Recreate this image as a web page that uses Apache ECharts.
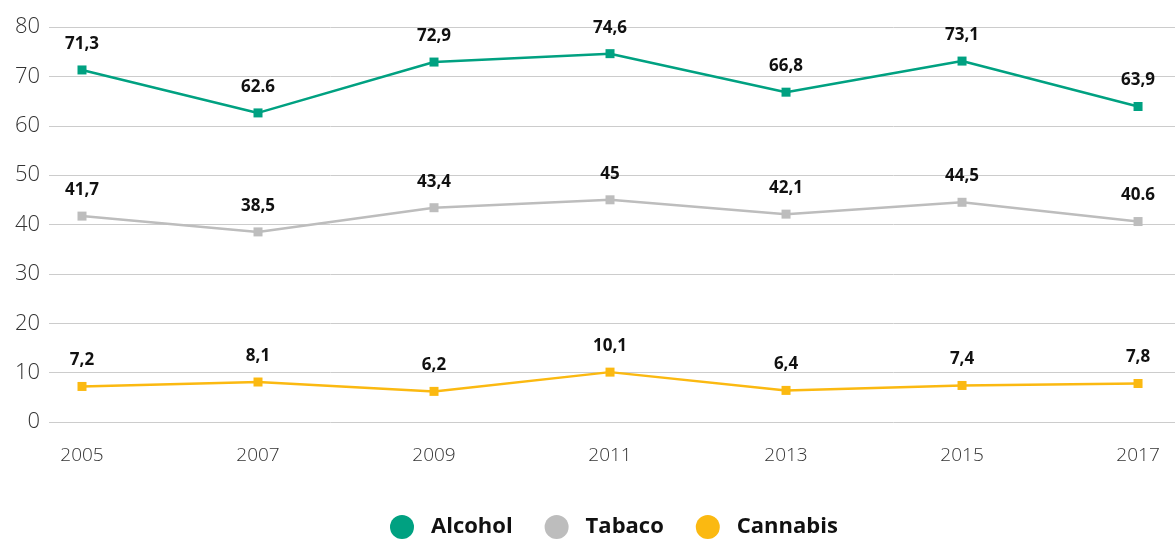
<!DOCTYPE html>
<html>
<head>
<meta charset="utf-8">
<script src="https://cdn.jsdelivr.net/npm/echarts@6/dist/echarts.min.js"></script>
<style>
  html, body { margin: 0; padding: 0; background: #fff; }
  #chart { width: 1175px; height: 539px; }
</style>
</head>
<body>
<div id="chart"></div>
<script>
// Survey years
const years = [2005, 2007, 2009, 2011, 2013, 2015, 2017];

// Prevalence (%) per substance
const alcohol  = [71.3, 62.6, 72.9, 74.6, 66.8, 73.1, 63.9];
const tabaco   = [41.7, 38.5, 43.4, 45, 42.1, 44.5, 40.6];
const cannabis = [7.2, 8.1, 6.2, 10.1, 6.4, 7.4, 7.8];

// Value labels as printed above each point
const alcoholLabels  = ['71,3', '62.6', '72,9', '74,6', '66,8', '73,1', '63,9'];
const tabacoLabels   = ['41,7', '38,5', '43,4', '45', '42,1', '44,5', '40.6'];
const cannabisLabels = ['7,2', '8,1', '6,2', '10,1', '6,4', '7,4', '7,8'];

const seriesNames = ['Alcohol', 'Tabaco', 'Cannabis'];
const colors = ['#00a181', '#bdbdbd', '#fbb911'];

const FONT = '"Open Sans", "Noto Sans", sans-serif';

function makeSeries(name, values, labels, color) {
  return {
    name: name,
    type: 'line',
    data: values.map((v, i) => [years[i], v]),
    symbol: 'rect',
    symbolSize: 9,
    lineStyle: { color: color, width: 2.5 },
    itemStyle: { color: color },
    label: {
      show: true,
      position: 'top',
      distance: 13,
      color: '#111',
      fontFamily: FONT,
      fontWeight: 'bold',
      fontSize: 17,
      formatter: p => labels[p.dataIndex]
    },
    emphasis: { disabled: true },
    animation: false
  };
}

const chart = echarts.init(document.getElementById('chart'), null, { renderer: 'canvas' });
chart.setOption({
  animation: false,
  color: colors,
  grid: { left: 49, right: 0, top: 27, bottom: 117, containLabel: false },
  legend: {
    bottom: -5,
    left: 385,
    icon: 'circle',
    itemWidth: 24,
    itemHeight: 24,
    itemGap: 32,
    data: seriesNames,
    textStyle: { fontFamily: FONT, fontWeight: 'bold', fontSize: 22, color: '#111', padding: [0, 0, 0, 12] }
  },
  xAxis: {
    type: 'value',
    min: 2004.625,
    max: 2017.42,
    axisLine: { show: false },
    axisTick: { show: false },
    splitLine: { show: false },
    axisLabel: {
      customValues: years,
      margin: 24,
      color: '#333',
      fontFamily: FONT,
      fontWeight: 300,
      fontSize: 19,
      formatter: v => String(v)
    }
  },
  yAxis: {
    type: 'value',
    min: 0,
    max: 80,
    interval: 10,
    axisLine: { show: false },
    axisTick: { show: false },
    axisLabel: {
      margin: 9,
      color: '#333',
      fontFamily: FONT,
      fontWeight: 300,
      fontSize: 22
    },
    splitLine: { lineStyle: { color: '#cccccc', width: 1 } }
  },
  series: [
    makeSeries(seriesNames[0], alcohol, alcoholLabels, colors[0]),
    makeSeries(seriesNames[1], tabaco, tabacoLabels, colors[1]),
    makeSeries(seriesNames[2], cannabis, cannabisLabels, colors[2])
  ]
});
</script>
</body>
</html>
